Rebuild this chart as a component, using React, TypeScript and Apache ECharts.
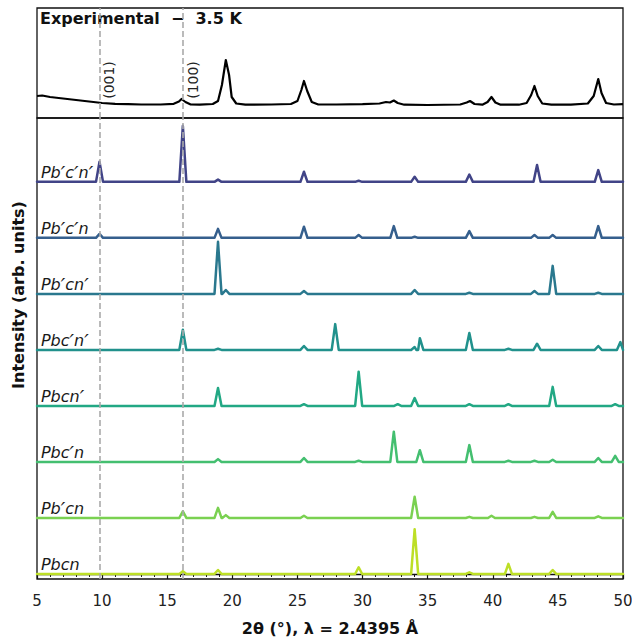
import React, { useEffect, useRef } from "react";
import * as echarts from "echarts";

// ---- axis / reference data ----
const X_MIN = 5;
const X_MAX = 50;
const X_STEP = 5;
const refLines = [9.8, 16.2];
const refLabels = ["(001)", "(100)"];
const refLabelX = [10.5, 16.95];
const refLabelY = 25;

// ---- experimental pattern (2θ, intensity above background) ----
const experimental: [number, number][] = [
  [5.0, 9], [5.4, 9.5], [6, 8], [7, 6.5], [8, 5], [9, 3.5], [10, 2], [11, 1.2], [12, 0.8],
  [13, 0.5], [14.5, 0.5], [15.5, 1.2], [15.9, 3.5], [16.1, 6], [16.4, 3], [16.8, 0.5],
  [17.5, 0.3], [18.5, 1], [18.9, 4], [19.2, 20], [19.5, 45], [19.75, 30], [19.95, 8],
  [20.3, 1.5], [21, 0.3], [23, 0.5], [24.5, 1], [25.0, 4], [25.3, 15], [25.5, 24],
  [25.75, 14], [26.1, 3], [26.6, 0.5], [28, 0.5], [30, 0.8], [31.3, 1.5], [31.8, 3],
  [32.1, 2.5], [32.4, 4.5], [32.7, 2], [33.2, 0.3], [35, 0], [37.5, 0.5], [38.0, 2.5],
  [38.25, 4], [38.6, 1], [39.2, 0.3], [39.6, 3], [39.9, 8], [40.2, 2.5], [40.6, 0.3],
  [42, 0.3], [42.6, 2], [42.95, 10], [43.2, 19], [43.45, 9], [43.8, 1.5], [44.5, 0.3],
  [46, 0.3], [47.3, 1.5], [47.75, 9], [48.1, 26], [48.35, 12], [48.7, 2], [49.3, 0.5],
  [50, 0.8],
];

// ---- simulated magnetic models: peaks as [2θ, relative intensity] ----
const phases = ["Pb′c′n′", "Pb′c′n", "Pb′cn′", "Pbc′n′", "Pbcn′", "Pbc′n", "Pb′cn", "Pbcn"];
const phaseColors = ["#414487", "#355f8d", "#2a788e", "#21918c", "#22a884", "#44bf70", "#7ad151", "#bddf26"];

const peaksPbpCpNp: [number, number][] = [[9.8, 36], [16.2, 100], [18.9, 4], [25.5, 18], [29.7, 2], [34.0, 9], [38.2, 13], [43.4, 30], [48.1, 21]];
const peaksPbpCpN: [number, number][] = [[9.8, 7], [18.9, 16], [25.5, 20], [29.7, 5], [32.4, 21], [34.0, 2], [38.2, 12], [43.2, 5], [44.6, 5], [48.1, 21]];
const peaksPbpCNp: [number, number][] = [[18.9, 93], [19.5, 7], [25.5, 5], [34.0, 7], [38.2, 2], [43.2, 5], [44.6, 50], [48.1, 2]];
const peaksPbCpNp: [number, number][] = [[16.2, 36], [18.9, 2], [25.5, 7], [27.9, 46], [34.0, 5], [34.4, 21], [38.2, 30], [41.2, 2], [43.4, 11], [48.1, 7], [49.8, 14]];
const peaksPbCNp: [number, number][] = [[18.9, 32], [25.5, 3], [29.7, 61], [32.7, 3], [34.0, 14], [38.2, 3], [41.2, 3], [44.6, 34], [49.4, 3]];
const peaksPbCpN: [number, number][] = [[18.9, 5], [25.5, 7], [29.7, 2], [32.4, 54], [34.4, 21], [38.2, 30], [41.2, 2], [43.2, 2], [44.6, 4], [48.1, 7], [49.4, 11]];
const peaksPbpCN: [number, number][] = [[16.2, 12], [18.9, 18], [19.5, 5], [25.5, 4], [34.0, 38], [38.2, 2], [39.9, 4], [43.2, 2], [44.6, 11], [48.1, 3]];
const peaksPbCN: [number, number][] = [[16.2, 5], [18.9, 7], [29.7, 12], [34.0, 80], [38.2, 3], [41.2, 18], [44.6, 7]];

const phasePeaks = [peaksPbpCpNp, peaksPbpCpN, peaksPbpCNp, peaksPbCpNp, peaksPbCNp, peaksPbCpN, peaksPbpCN, peaksPbCN];
const OFFSET_STEP = 100;
const HALF_WIDTH = 0.27;

function buildTrace(peaks: [number, number][], offset: number): [number, number][] {
  const pts: [number, number][] = [[X_MIN, offset], [X_MAX, offset]];
  for (const [p, h] of peaks) {
    if (p - HALF_WIDTH > X_MIN) pts.push([p - HALF_WIDTH, offset]);
    pts.push([p, offset + h]);
    if (p + HALF_WIDTH < X_MAX) pts.push([p + HALF_WIDTH, offset]);
  }
  pts.sort((a, b) => a[0] - b[0]);
  return pts;
}

const FONT = "DejaVu Sans";

export default function App() {
  const ref = useRef<HTMLDivElement>(null);
  useEffect(() => {
    document.body.style.margin = "0";
    if (!ref.current) return;
    const chart = echarts.init(ref.current, undefined, { renderer: "svg" });

    const refLineSeries = (idx: number) => ({
      type: "line",
      xAxisIndex: idx,
      yAxisIndex: idx,
      data: [],
      z: 1,
      silent: true,
      markLine: {
        silent: true,
        symbol: ["none", "none"],
        label: { show: false },
        lineStyle: { color: "#aaaaaa", type: [6, 3], width: 1.6 },
        data: refLines.map((v) => ({ xAxis: v })),
      },
    });

    const phaseSeries = phases.map((name, i) => {
      const offset = (phases.length - 1 - i) * OFFSET_STEP;
      const richName = name.split("′").join("{p|′}");
      return {
        type: "line",
        name,
        xAxisIndex: 1,
        yAxisIndex: 1,
        data: buildTrace(phasePeaks[i], offset),
        showSymbol: false,
        symbol: "none",
        z: 3,
        lineStyle: { color: phaseColors[i], width: 2.5, join: "round", cap: "round" },
        markPoint: {
          symbol: "circle",
          symbolSize: 0,
          silent: true,
          data: [{ coord: [5.3, offset], name }],
          label: {
            show: true,
            formatter: richName,
            position: [0, 0],
            align: "left",
            verticalAlign: "bottom",
            fontSize: 16,
            lineHeight: 18,
            fontStyle: "italic",
            fontFamily: FONT,
            color: "#1a1a1a",
            rich: {
              p: { fontSize: 20, lineHeight: 18, fontStyle: "italic", fontFamily: FONT, color: "#1a1a1a" },
            },
          },
        },
      };
    });

    chart.setOption({
      animation: false,
      textStyle: { fontFamily: FONT },
      grid: [
        { left: 37, right: 9, top: 8, height: 110, show: true, borderColor: "#111", borderWidth: 1.3, containLabel: false, outerBoundsMode: "none" },
        { left: 37, right: 9, top: 118, height: 461, show: true, borderColor: "#111", borderWidth: 1.3, containLabel: false, outerBoundsMode: "none" },
      ],
      xAxis: [
        {
          gridIndex: 0, type: "value", min: X_MIN, max: X_MAX,
          axisLine: { show: false }, axisTick: { show: false }, axisLabel: { show: false }, splitLine: { show: false },
        },
        {
          gridIndex: 1, type: "value", min: X_MIN, max: X_MAX, interval: X_STEP,
          axisLine: { show: true, lineStyle: { color: "#111", width: 1.3 } },
          axisTick: { show: true, length: 5, lineStyle: { color: "#111", width: 1.2 } },
          minorTick: { show: true, splitNumber: 5, length: 3, lineStyle: { color: "#111", width: 1 } },
          axisLabel: { fontSize: 15, color: "#222", fontFamily: FONT, margin: 14 },
          splitLine: { show: false },
          minorSplitLine: { show: false },
          name: "2θ (°), λ = 2.4395 Å",
          nameLocation: "middle",
          nameGap: 41,
          nameTextStyle: { fontSize: 16, fontWeight: "bold", color: "#111", fontFamily: FONT },
        },
      ],
      yAxis: [
        { gridIndex: 0, type: "value", min: -13, max: 97, show: false, splitLine: { show: false } },
        { gridIndex: 1, type: "value", min: -9, max: 814, show: false, splitLine: { show: false } },
      ],
      graphic: [
        {
          type: "text", left: 40, top: 10,
          style: { text: "Experimental  −  3.5 K", fontSize: 16, fontWeight: "bold", fill: "#111", fontFamily: FONT },
        },
        {
          type: "text", x: 18, y: 295, rotation: Math.PI / 2,
          style: {
            text: "Intensity (arb. units)", fontSize: 16, fontWeight: "bold", fill: "#111", fontFamily: FONT,
            align: "center", verticalAlign: "middle", textAlign: "center", textVerticalAlign: "middle",
          },
        },
      ],
      series: [
        refLineSeries(0),
        refLineSeries(1),
        {
          type: "line",
          name: "Experimental",
          xAxisIndex: 0,
          yAxisIndex: 0,
          data: experimental,
          showSymbol: false,
          symbol: "none",
          z: 3,
          lineStyle: { color: "#000", width: 2.2, join: "round" },
          markPoint: {
            symbol: "circle",
            symbolSize: 0,
            silent: true,
            data: refLabels.map((t, k) => ({ coord: [refLabelX[k], refLabelY], name: t })),
            label: {
              show: true,
              formatter: (p: any) => p.name,
              position: [0, 0],
              rotate: 90,
              align: "center",
              verticalAlign: "middle",
              fontSize: 14,
              fontFamily: FONT,
              color: "#222",
            },
          },
        },
        ...phaseSeries,
      ],
    });
    return () => chart.dispose();
  }, []);
  return <div ref={ref} style={{ width: 632, height: 639 }} />;
}
